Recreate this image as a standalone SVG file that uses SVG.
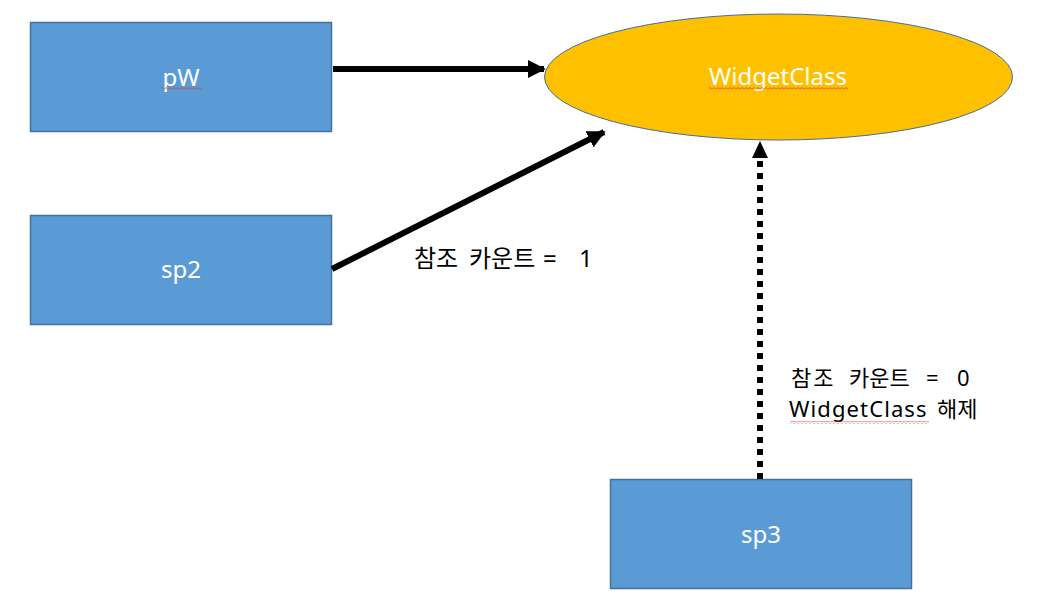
<svg xmlns="http://www.w3.org/2000/svg" width="1043" height="608" viewBox="0 0 1043 608">
<style>
.box{fill:#5B9BD5;stroke:#41719C;stroke-width:1.5}
.lbl{font-family:"Noto Sans","Noto Sans CJK KR",sans-serif;font-size:24px;fill:#ffffff;text-anchor:middle}
.note{font-family:"Noto Sans","Noto Sans CJK KR",sans-serif;font-size:24px;fill:#000000}
.sm{font-size:22px}
.kr{font-family:"Noto Sans CJK KR","Noto Sans",sans-serif}
.con{stroke:#000;stroke-width:6;fill:none}
</style>
<defs>
<marker id="ah" viewBox="0 0 10 10" refX="9" refY="5" markerWidth="3" markerHeight="3" orient="auto" markerUnits="strokeWidth">
<path d="M0,0 L10,5 L0,10 z" fill="#000"/>
</marker>
<pattern id="wave" width="4" height="3" patternUnits="userSpaceOnUse">
<path d="M0,2.5 L2,0.5 L4,2.5" fill="none" stroke="#e03030" stroke-width="0.8"/>
</pattern>
</defs>
<rect width="1043" height="608" fill="#fff"/>
<g id="pW">
<rect class="box" x="30.5" y="22.5" width="301" height="109"/>
<text class="lbl" x="181" y="86">pW</text>
<rect x="161" y="87" width="41" height="3" fill="url(#wave)"/>
</g>
<g id="sp2">
<rect class="box" x="30.5" y="215.5" width="301" height="109"/>
<text class="lbl" x="181" y="278">sp2</text>
</g>
<g id="sp3">
<rect class="box" x="610.5" y="479.5" width="301" height="109"/>
<text class="lbl" x="761" y="543">sp3</text>
</g>
<g id="WidgetClass">
<ellipse cx="778.5" cy="77" rx="234" ry="63" fill="#FFC000" stroke="#41719C" stroke-width="1"/>
<text class="lbl" x="778" y="85">WidgetClass</text>
<rect x="709" y="87" width="139" height="3" fill="url(#wave)"/>
</g>
<g id="connectors">
<line class="con" x1="333" y1="69" x2="544" y2="69" marker-end="url(#ah)"/>
<line class="con" x1="332" y1="269" x2="604" y2="132" marker-end="url(#ah)"/>
<line class="con" x1="760" y1="479" x2="760" y2="157" stroke-dasharray="6 6"/>
<path d="M752,158 L760,141 L768,158 z" fill="#000"/>
</g>
<g id="labels">
<text class="note" y="267"><tspan x="414" class="kr">참조</tspan><tspan x="469" class="kr">카운트</tspan><tspan x="543">=</tspan><tspan x="579">1</tspan></text>
<text class="note sm" y="386"><tspan x="791" class="kr" letter-spacing="2">참조</tspan><tspan x="849" class="kr">카운트</tspan><tspan x="926">=</tspan><tspan x="957">0</tspan></text>
<text class="note sm" y="417"><tspan x="789" letter-spacing="1.1">WidgetClass</tspan><tspan x="937">해제</tspan></text>
<rect x="790" y="421" width="139" height="3" fill="url(#wave)"/>
</g>
</svg>
